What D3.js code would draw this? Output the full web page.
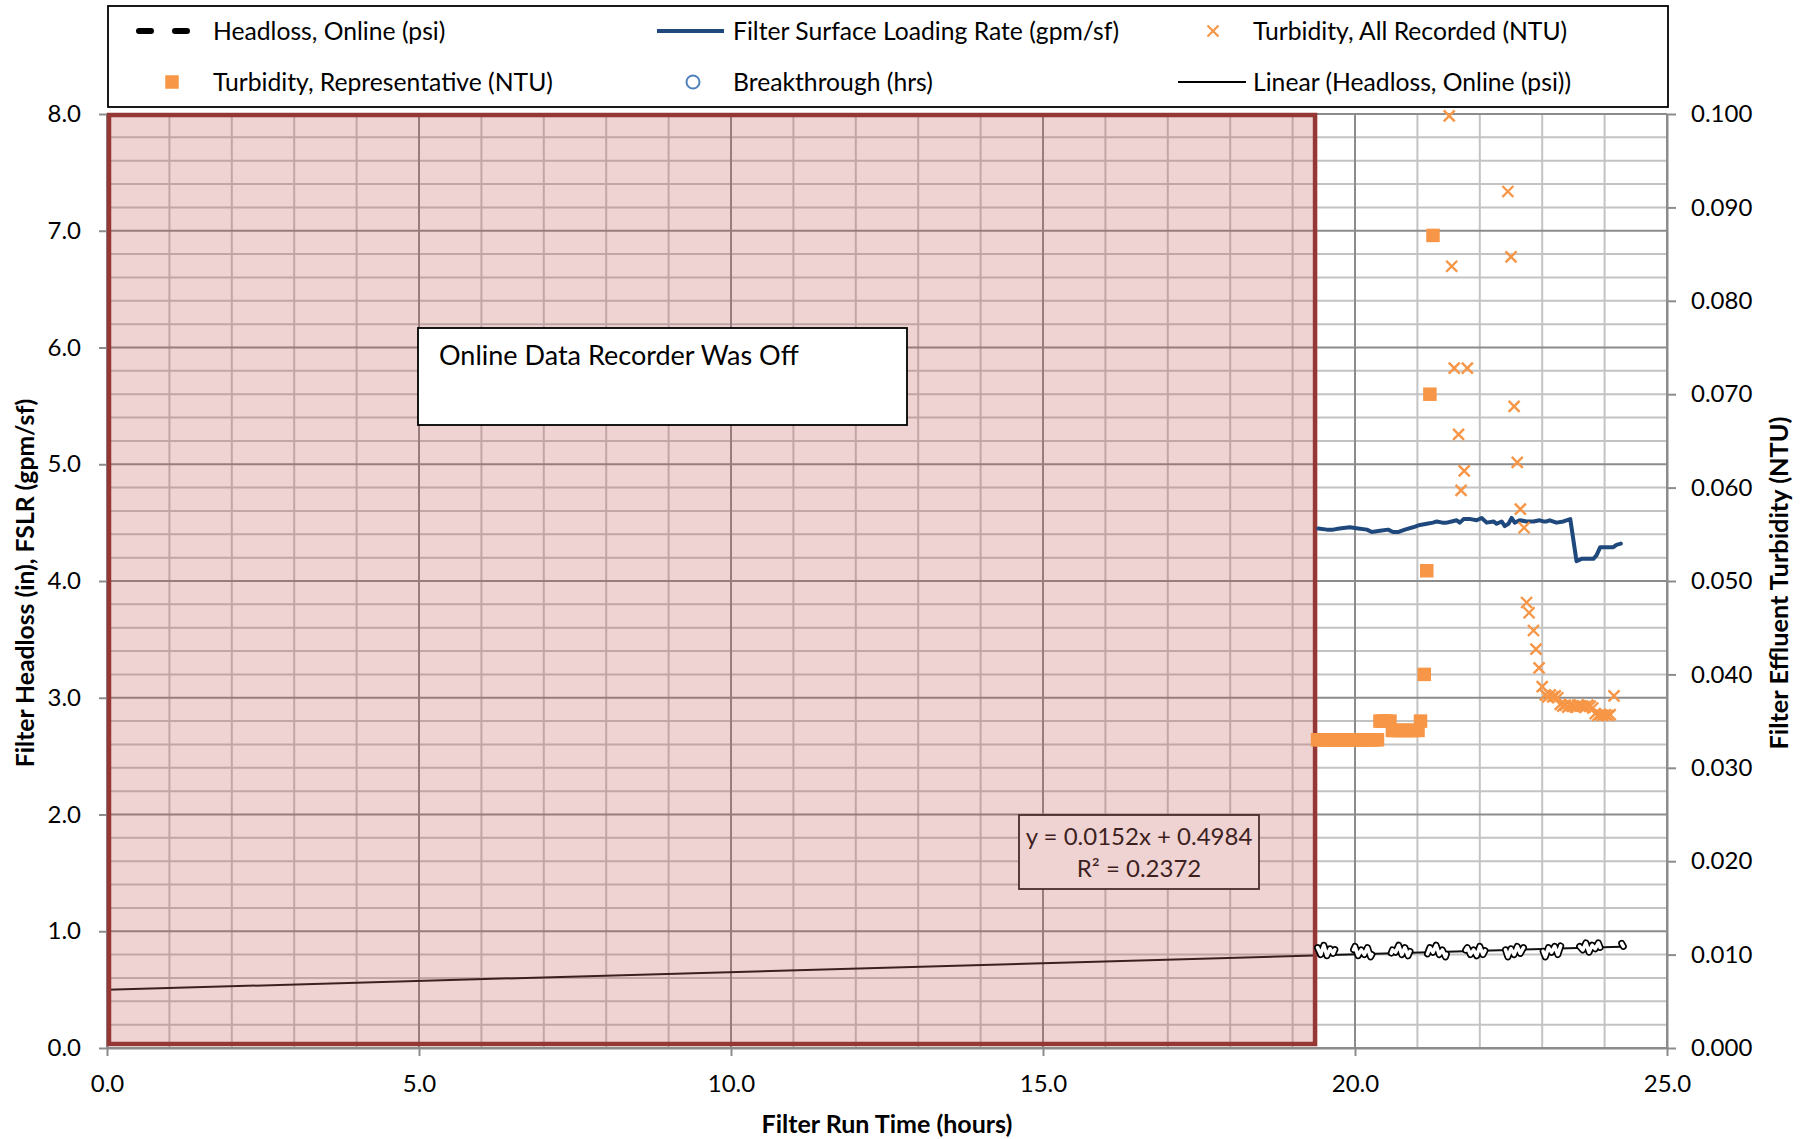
<!DOCTYPE html>
<html>
<head>
<meta charset="utf-8">
<script src="https://cdn.jsdelivr.net/npm/d3@7"></script>
<style>
  html, body { margin: 0; padding: 0; background: #fff; }
  svg { display: block; font-family: Lato, "Open Sans", sans-serif; }
</style>
</head>
<body>
<svg id="chart" width="1808" height="1139"></svg>
<script>
// ---------------- DATA ----------------
const xTickValues = [0, 5, 10, 15, 20, 25];
const xTickLabels = ["0.0", "5.0", "10.0", "15.0", "20.0", "25.0"];
const leftTickValues = [0, 1, 2, 3, 4, 5, 6, 7, 8];
const leftTickLabels = ["0.0", "1.0", "2.0", "3.0", "4.0", "5.0", "6.0", "7.0", "8.0"];
const rightTickValues = [0, 0.01, 0.02, 0.03, 0.04, 0.05, 0.06, 0.07, 0.08, 0.09, 0.1];
const rightTickLabels = ["0.000", "0.010", "0.020", "0.030", "0.040", "0.050", "0.060", "0.070", "0.080", "0.090", "0.100"];

const seriesNames = [
  "Headloss, Online (psi)", "Filter Surface Loading Rate (gpm/sf)", "Turbidity, All Recorded (NTU)",
  "Turbidity, Representative (NTU)", "Breakthrough (hrs)", "Linear (Headloss, Online (psi))"
];

// Filter surface loading rate (hours, gpm/sf)
const fslr = [
  [19.41,4.45],[19.55,4.44],[19.65,4.44],[19.75,4.45],[19.92,4.46],[20.05,4.45],[20.19,4.44],[20.27,4.42],
  [20.40,4.43],[20.53,4.44],[20.61,4.42],[20.70,4.42],[20.80,4.44],[20.93,4.46],[21.04,4.48],[21.15,4.49],
  [21.25,4.50],[21.31,4.51],[21.40,4.50],[21.47,4.50],[21.55,4.51],[21.63,4.52],[21.68,4.50],[21.74,4.53],
  [21.85,4.53],[21.95,4.52],[22.03,4.54],[22.11,4.50],[22.22,4.51],[22.27,4.49],[22.35,4.51],[22.40,4.47],
  [22.46,4.49],[22.51,4.54],[22.56,4.50],[22.64,4.52],[22.75,4.51],[22.86,4.51],[22.96,4.52],[23.02,4.51],
  [23.07,4.51],[23.12,4.52],[23.23,4.50],[23.34,4.51],[23.45,4.53],[23.55,4.17],[23.63,4.19],[23.75,4.19],
  [23.82,4.19],[23.87,4.22],[23.93,4.29],[24.04,4.29],[24.14,4.29],[24.19,4.31],[24.26,4.32]
];

// Headloss, online (hours, psi)
const headlossStart = [[0.03,0.14],[0.04,0.30]];
const headlossOnline = [
  [19.40,0.86],[19.45,0.80],[19.50,0.88],[19.55,0.79],[19.60,0.85],[19.65,0.81],[19.70,0.87],[19.75,0.80],[19.80,0.84],[19.85,0.78],
  [19.90,0.86],[19.95,0.81],[20.00,0.87],[20.05,0.79],[20.10,0.84],[20.15,0.80],[20.20,0.86],[20.25,0.78],[20.30,0.83],[20.35,0.81],
  [20.40,0.87],[20.45,0.80],[20.50,0.85],[20.55,0.77],[20.60,0.84],[20.65,0.82],[20.70,0.88],[20.75,0.80],[20.80,0.86],[20.85,0.79],
  [20.90,0.85],[20.95,0.76],[21.00,0.83],[21.05,0.81],[21.10,0.87],[21.15,0.79],[21.20,0.86],[21.25,0.82],[21.30,0.88],[21.35,0.80],
  [21.40,0.84],[21.45,0.78],[21.50,0.86],[21.55,0.81],[21.60,0.87],[21.65,0.79],[21.70,0.85],[21.75,0.82],[21.80,0.86],[21.85,0.80],
  [21.90,0.84],[21.95,0.79],[22.00,0.87],[22.05,0.80],[22.10,0.85],[22.15,0.81],[22.20,0.88],[22.25,0.79],[22.30,0.84],[22.35,0.82],
  [22.40,0.86],[22.45,0.78],[22.50,0.85],[22.55,0.80],[22.60,0.87],[22.65,0.81],[22.70,0.86],[22.75,0.79],[22.80,0.84],[22.85,0.82],
  [22.90,0.88],[22.95,0.80],[23.00,0.85],[23.05,0.78],[23.10,0.86],[23.15,0.82],[23.20,0.87],[23.25,0.80],[23.30,0.88],[23.35,0.81],
  [23.40,0.86],[23.45,0.83],[23.50,0.89],[23.55,0.81],[23.60,0.87],[23.65,0.84],[23.70,0.90],[23.75,0.82],[23.80,0.88],[23.85,0.85],
  [23.90,0.90],[23.95,0.83],[24.00,0.89],[24.05,0.86],[24.10,0.91],[24.15,0.84],[24.20,0.88],[24.25,0.92],[24.30,0.87]
];

// Turbidity, all recorded (hours, NTU)
const turbidityAll = [
  [21.51,0.0998],[21.55,0.0837],[21.59,0.0728],[21.66,0.0657],[21.70,0.0597],[21.75,0.0618],[21.80,0.0728],
  [22.45,0.0917],[22.50,0.0847],[22.55,0.0687],[22.60,0.0627],[22.65,0.0577],[22.71,0.0557],
  [22.75,0.0477],[22.79,0.0466],[22.86,0.0447],[22.90,0.0427],[22.95,0.0407],[23.00,0.0387],
  [23.05,0.0378],[23.09,0.0376],[23.13,0.0378],[23.17,0.0376],[23.21,0.0377],[23.25,0.0375],
  [23.29,0.0368],[23.33,0.0366],[23.37,0.0367],[23.41,0.0365],[23.45,0.0367],[23.49,0.0366],[23.53,0.0365],
  [23.57,0.0367],[23.61,0.0366],[23.65,0.0366],[23.69,0.0365],[23.73,0.0367],[23.77,0.0366],[23.81,0.0364],
  [23.85,0.0358],[23.89,0.0356],[23.93,0.0357],[23.97,0.0356],[24.01,0.0357],[24.05,0.0356],[24.09,0.0357],
  [24.15,0.0377]
];

// Turbidity, representative (hours, NTU)
const turbidityRep = [
  [19.40,0.0330],[19.45,0.0330],[19.50,0.0330],[19.55,0.0330],[19.60,0.0330],[19.65,0.0330],[19.70,0.0330],
  [19.75,0.0330],[19.80,0.0330],[19.85,0.0330],[19.90,0.0330],[19.95,0.0330],[20.00,0.0330],[20.05,0.0330],
  [20.10,0.0330],[20.15,0.0330],[20.20,0.0330],[20.25,0.0330],[20.30,0.0330],[20.36,0.0330],
  [20.40,0.0350],[20.45,0.0350],[20.50,0.0350],[20.56,0.0350],
  [20.60,0.0340],[20.65,0.0340],[20.70,0.0340],[20.75,0.0340],[20.80,0.0340],[20.85,0.0340],[20.90,0.0340],
  [20.95,0.0340],[21.01,0.0340],
  [21.05,0.0350],[21.11,0.0400],[21.15,0.0511],[21.20,0.0700],[21.25,0.0870]
];

// Linear trendline of headloss (from chart label)
const trendSlope = 0.0152;
const trendIntercept = 0.4984;
const trendRange = [0, 24.26];
const trendLabel = ["y = 0.0152x + 0.4984", "R² = 0.2372"];

// Recorder-off period (hours)
const recorderOff = [0, 19.36];
const recorderOffNote = "Online Data Recorder Was Off";

// ---------------- CHART ----------------
const svg = d3.select("#chart");
const x = d3.scaleLinear().domain([0, 25]).range([107, 1667]);
const yL = d3.scaleLinear().domain([0, 8]).range([1048, 114]);
const yR = d3.scaleLinear().domain([0, 0.1]).range([1048, 114]);

const minorColor = "#c3c3c3", majorColor = "#8c8c8c", axisColor = "#8c8c8c";
const orange = "#F79646", blue = "#1F497D";

// Grid
const grid = svg.append("g");
const hMinor = d3.range(0, 41).map(i => i * 0.2).filter((d, i) => i % 5 !== 0);
const vMinor = d3.range(0, 26).filter(d => d % 5 !== 0);
grid.selectAll(".hm").data(hMinor).join("line")
  .attr("x1", x(0)).attr("x2", x(25)).attr("y1", d => yL(d)).attr("y2", d => yL(d))
  .attr("stroke", minorColor).attr("stroke-width", 2);
grid.selectAll(".vm").data(vMinor).join("line")
  .attr("y1", yL(0)).attr("y2", yL(8)).attr("x1", d => x(d)).attr("x2", d => x(d))
  .attr("stroke", minorColor).attr("stroke-width", 2);
grid.selectAll(".hM").data(leftTickValues).join("line")
  .attr("x1", x(0)).attr("x2", x(25)).attr("y1", d => yL(d)).attr("y2", d => yL(d))
  .attr("stroke", majorColor).attr("stroke-width", 2);
grid.selectAll(".vM").data(xTickValues).join("line")
  .attr("y1", yL(0)).attr("y2", yL(8)).attr("x1", d => x(d)).attr("x2", d => x(d))
  .attr("stroke", majorColor).attr("stroke-width", 2);

// Axes
function styleAxis(g) {
  g.select(".domain").attr("stroke", axisColor).attr("stroke-width", 2);
  g.selectAll(".tick line").attr("stroke", axisColor).attr("stroke-width", 2);
  g.selectAll(".tick text").attr("fill", "#000").style("font-size", "24px").style("font-family", "Lato");
}
svg.append("g").attr("transform", `translate(0,${yL(0)})`)
  .call(d3.axisBottom(x).tickValues(xTickValues).tickFormat((d, i) => xTickLabels[i]).tickSize(8).tickPadding(19).tickSizeOuter(0))
  .call(styleAxis);
svg.append("g").attr("transform", `translate(${x(0)},0)`)
  .call(d3.axisLeft(yL).tickValues(leftTickValues).tickFormat((d, i) => leftTickLabels[i]).tickSize(8).tickPadding(18).tickSizeOuter(0))
  .call(styleAxis);
svg.append("g").attr("transform", `translate(${x(25)},0)`)
  .call(d3.axisRight(yR).tickValues(rightTickValues).tickFormat((d, i) => rightTickLabels[i]).tickSize(9).tickPadding(15).tickSizeOuter(0))
  .call(styleAxis);

// Trendline
svg.append("line")
  .attr("x1", x(trendRange[0])).attr("y1", yL(trendSlope * trendRange[0] + trendIntercept))
  .attr("x2", x(trendRange[1])).attr("y2", yL(trendSlope * trendRange[1] + trendIntercept))
  .attr("stroke", "#111").attr("stroke-width", 2);

// Headloss start fragment
const lineL = d3.line().x(d => x(d[0])).y(d => yL(d[1]));
svg.append("path").datum(headlossStart).attr("d", lineL)
  .attr("fill", "none").attr("stroke", "#000").attr("stroke-width", 2);

// Trendline equation box (under overlay)
const eq = svg.append("g");
eq.append("rect").attr("x", 1019).attr("y", 815).attr("width", 240).attr("height", 74)
  .attr("fill", "#fff").attr("stroke", "#222").attr("stroke-width", 1.8);
eq.selectAll("text").data(trendLabel).join("text")
  .attr("x", 1139).attr("y", (d, i) => 845 + i * 32)
  .attr("text-anchor", "middle").attr("fill", "#111")
  .style("font-size", "24px").text(d => d);

// Recorder-off overlay
svg.append("rect")
  .attr("x", x(recorderOff[0]) + 2).attr("y", yL(8) + 1)
  .attr("width", x(recorderOff[1]) - x(recorderOff[0]) - 2)
  .attr("height", yL(0) - yL(8) - 5)
  .attr("fill", "#C0504D").attr("fill-opacity", 0.25)
  .attr("stroke", "#953735").attr("stroke-width", 4.5);

// Note box
const note = svg.append("g");
note.append("rect").attr("x", 418).attr("y", 328).attr("width", 489).attr("height", 97)
  .attr("fill", "#fff").attr("stroke", "#000").attr("stroke-width", 1.8);
note.append("text").attr("x", 439).attr("y", 365).attr("fill", "#000")
  .style("font-size", "27px").text(recorderOffNote);

// Headloss online: outlined dashes
const hlPath = lineL(headlossOnline);
const hlDash = "46,46";
svg.append("path").attr("d", hlPath).attr("fill", "none")
  .attr("stroke", "#000").attr("stroke-width", 7).attr("stroke-dasharray", hlDash)
  .attr("stroke-linecap", "round").attr("stroke-linejoin", "round");
svg.append("path").attr("d", hlPath).attr("fill", "none")
  .attr("stroke", "#fff").attr("stroke-width", 3.6).attr("stroke-dasharray", hlDash)
  .attr("stroke-linecap", "round").attr("stroke-linejoin", "round");

// FSLR line
svg.append("path").datum(fslr).attr("d", lineL)
  .attr("fill", "none").attr("stroke", blue).attr("stroke-width", 4)
  .attr("stroke-linejoin", "round").attr("stroke-linecap", "round");

// Turbidity representative squares
const sq = 13.5;
svg.selectAll(".rep").data(turbidityRep).join("rect")
  .attr("x", d => x(d[0]) - sq / 2).attr("y", d => yR(d[1]) - sq / 2)
  .attr("width", sq).attr("height", sq).attr("fill", orange);

// Turbidity all recorded crosses
const xm = 5.5;
const crossPath = `M${-xm},${-xm}L${xm},${xm}M${-xm},${xm}L${xm},${-xm}`;
svg.selectAll(".all").data(turbidityAll).join("path")
  .attr("transform", d => `translate(${x(d[0])},${yR(d[1])})`)
  .attr("d", crossPath).attr("fill", "none").attr("stroke", orange).attr("stroke-width", 2.4);

// Axis titles
svg.append("text").attr("x", 887).attr("y", 1133).attr("text-anchor", "middle")
  .style("font-size", "25px").style("font-weight", "bold").text("Filter Run Time (hours)");
svg.append("text").attr("transform", "translate(25,583) rotate(-90)").attr("dy", "0.35em")
  .attr("text-anchor", "middle").style("font-size", "24.7px").style("font-weight", "bold")
  .text("Filter Headloss (in), FSLR (gpm/sf)");
svg.append("text").attr("transform", "translate(1779,583) rotate(-90)").attr("dy", "0.35em")
  .attr("text-anchor", "middle").style("font-size", "25.3px").style("font-weight", "bold")
  .text("Filter Effluent Turbidity (NTU)");

// Legend
const lg = svg.append("g");
lg.append("rect").attr("x", 108).attr("y", 6).attr("width", 1560).attr("height", 101)
  .attr("fill", "#fff").attr("stroke", "#000").attr("stroke-width", 1.8);
const legendPos = [[213, 31], [733, 31], [1253, 31], [213, 82], [733, 82], [1253, 82]];
lg.selectAll("text").data(seriesNames).join("text")
  .attr("x", (d, i) => legendPos[i][0]).attr("y", (d, i) => legendPos[i][1]).attr("dy", "0.35em")
  .style("font-size", "24.7px").attr("fill", "#000").text(d => d);
// symbols
lg.append("line").attr("x1", 139).attr("x2", 195).attr("y1", 31).attr("y2", 31)
  .attr("stroke", "#000").attr("stroke-width", 6).attr("stroke-dasharray", "12,24").attr("stroke-linecap", "round");
lg.append("line").attr("x1", 657).attr("x2", 724).attr("y1", 31).attr("y2", 31)
  .attr("stroke", blue).attr("stroke-width", 4);
lg.append("path").attr("transform", "translate(1213,31)").attr("d", crossPath)
  .attr("fill", "none").attr("stroke", orange).attr("stroke-width", 2.2);
lg.append("rect").attr("x", 172 - sq / 2).attr("y", 82 - sq / 2).attr("width", sq).attr("height", sq).attr("fill", orange);
lg.append("circle").attr("cx", 693).attr("cy", 82).attr("r", 6.5)
  .attr("fill", "#fff").attr("stroke", "#4F81BD").attr("stroke-width", 2);
lg.append("line").attr("x1", 1178).attr("x2", 1246).attr("y1", 82).attr("y2", 82)
  .attr("stroke", "#000").attr("stroke-width", 2);
</script>
</body>
</html>
